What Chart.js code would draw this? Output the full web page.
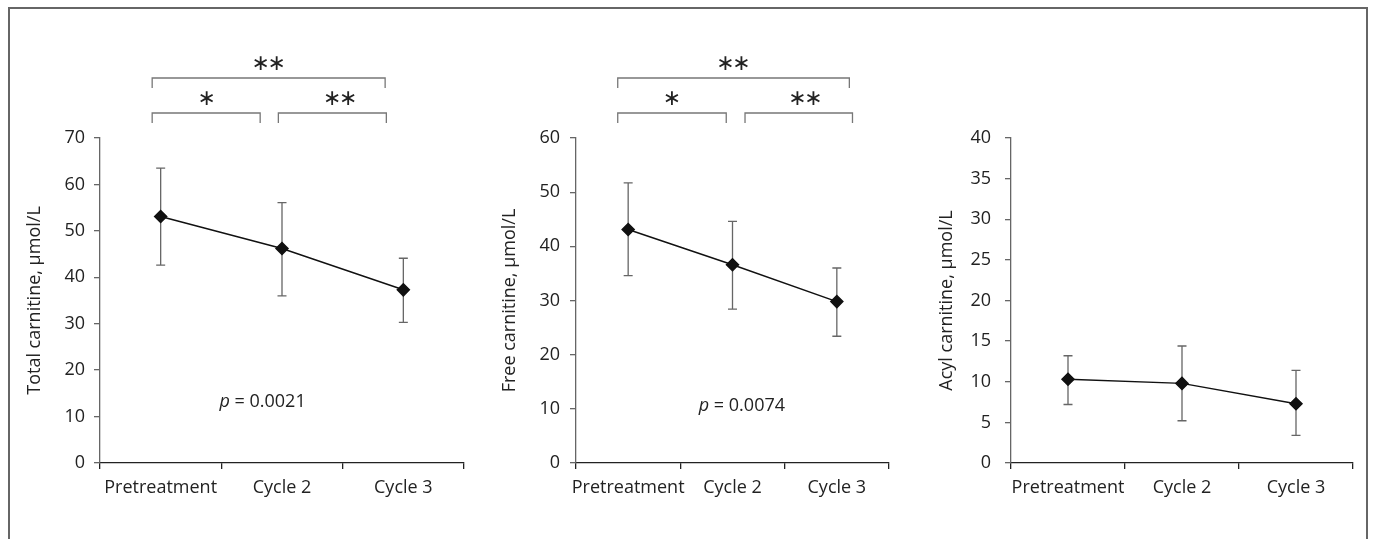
<!DOCTYPE html>
<html>
<head>
<meta charset="utf-8">
<script src="https://cdn.jsdelivr.net/npm/chart.js@4"></script>
<style>
body { margin: 0; background: #fff; width: 1375px; height: 539px; overflow: hidden; position: relative; }
#frame { position: absolute; left: 8px; top: 7px; width: 1360px; height: 620px; box-sizing: border-box; border: 2px solid #666; border-bottom: none; }
.box { position: absolute; top: 0; height: 539px; }
</style>
</head>
<body>
<div id="frame"></div>
<div class="box" style="left:0;width:480px"><canvas id="totalChart"></canvas></div>
<div class="box" style="left:480px;width:420px"><canvas id="freeChart"></canvas></div>
<div class="box" style="left:900px;width:470px"><canvas id="acylChart"></canvas></div>
<script>
const categories = ["Pretreatment", "Cycle 2", "Cycle 3"];

const totalMean = [53.1, 46.2, 37.3];
const totalLow = [42.6, 36.0, 30.3];
const totalHigh = [63.5, 56.1, 44.1];

const freeMean = [43.1, 36.6, 29.8];
const freeLow = [34.6, 28.4, 23.4];
const freeHigh = [51.7, 44.6, 36.0];

const acylMean = [10.3, 9.8, 7.3];
const acylLow = [7.2, 5.2, 3.4];
const acylHigh = [13.2, 14.4, 11.4];

// brackets: [from index, to index, level, number of stars, star index]
const totalBrackets = [[-0.07, 1.85, 0, 2, 0.89], [-0.07, 0.82, 1, 1, 0.38], [0.97, 1.86, 1, 2, 1.48]];
const freeBrackets = [[-0.1, 2.12, 0, 2, 1.01], [-0.1, 0.94, 1, 1, 0.42], [1.12, 2.15, 1, 2, 1.7]];

const totalP = ["0.0021", 0.84, 13.1];
const freeP = ["0.0074", 1.09, 10.5];

const FONT = "Open Sans";
const SIZE = 18;
const TXT = "#222";

const errorBars = {
  id: "errorBars",
  beforeDatasetsDraw(chart, args, opts) {
    const ctx = chart.ctx, x = chart.scales.x, y = chart.scales.y;
    ctx.save();
    ctx.strokeStyle = "#666";
    ctx.lineWidth = 1.3;
    opts.low.forEach((lo, i) => {
      const px = x.getPixelForValue(i);
      const y1 = y.getPixelForValue(lo), y2 = y.getPixelForValue(opts.high[i]);
      ctx.beginPath();
      ctx.moveTo(px, y1); ctx.lineTo(px, y2);
      ctx.moveTo(px - 4.5, y1); ctx.lineTo(px + 4.5, y1);
      ctx.moveTo(px - 4.5, y2); ctx.lineTo(px + 4.5, y2);
      ctx.stroke();
    });
    ctx.restore();
  }
};

const notes = {
  id: "notes",
  afterDraw(chart, args, opts) {
    const ctx = chart.ctx, x = chart.scales.x, y = chart.scales.y;
    const top = chart.chartArea.top;
    ctx.save();
    ctx.strokeStyle = "#777";
    ctx.lineWidth = 1.3;
    (opts.brackets || []).forEach(b => {
      const ly = top - (b[2] === 0 ? 60 : 25);
      const x1 = x.getPixelForValue(b[0]), x2 = x.getPixelForValue(b[1]);
      ctx.beginPath();
      ctx.moveTo(x1, ly + 10); ctx.lineTo(x1, ly); ctx.lineTo(x2, ly); ctx.lineTo(x2, ly + 10);
      ctx.stroke();
      ctx.font = "22px 'DejaVu Sans'";
      ctx.fillStyle = TXT;
      ctx.textAlign = "center";
      ctx.textBaseline = "alphabetic";
      const m = ctx.measureText("\u2217");
      const cy = ly - 15 + (m.actualBoundingBoxAscent - m.actualBoundingBoxDescent) / 2;
      const cx = x.getPixelForValue(b[4]);
      for (let k = 0; k < b[3]; k++) {
        ctx.fillText("\u2217", cx + (k - (b[3] - 1) / 2) * 16, cy);
      }
    });
    if (opts.p) {
      const px = x.getPixelForValue(opts.p[1]), py = y.getPixelForValue(opts.p[2]);
      ctx.textBaseline = "middle";
      ctx.textAlign = "left";
      ctx.fillStyle = TXT;
      ctx.font = "italic " + SIZE + "px '" + FONT + "'";
      const w1 = ctx.measureText("p").width;
      ctx.font = SIZE + "px '" + FONT + "'";
      const rest = " = " + opts.p[0];
      const w2 = ctx.measureText(rest).width;
      const sx = px - (w1 + w2) / 2;
      ctx.font = "italic " + SIZE + "px '" + FONT + "'";
      ctx.fillText("p", sx, py);
      ctx.font = SIZE + "px '" + FONT + "'";
      ctx.fillText(rest, sx + w1, py);
    }
    ctx.restore();
  }
};

function makeChart(id, mean, low, high, yMax, step, title, yWidth, padRight, titlePad, tickPad, brackets, p) {
  return new Chart(id, {
    type: "line",
    data: {
      labels: categories,
      datasets: [{
        data: mean,
        borderColor: "#111",
        borderWidth: 1.5,
        pointStyle: "rectRot",
        pointRadius: 6,
        pointBackgroundColor: "#111",
        pointBorderColor: "#111",
        tension: 0
      }]
    },
    options: {
      responsive: true,
      maintainAspectRatio: false,
      animation: false,
      devicePixelRatio: 1,
      layout: { padding: { top: 138, right: padRight, left: 0, bottom: 0 } },
      plugins: {
        legend: { display: false },
        tooltip: { enabled: false },
        errorBars: { low: low, high: high },
        notes: { brackets: brackets, p: p }
      },
      scales: {
        x: {
          type: "category",
          offset: true,
          grid: { offset: true, drawOnChartArea: false, tickLength: 6, color: "#222", lineWidth: 1.3 },
          border: { color: "#222", width: 1.3 },
          ticks: { color: TXT, font: { family: FONT, size: SIZE }, padding: 8, maxRotation: 0, autoSkip: false },
          afterFit(s) { s.height = 76; }
        },
        y: {
          min: 0,
          max: yMax,
          grid: { drawOnChartArea: false, tickLength: 6, color: "#666", lineWidth: 1.3 },
          border: { color: "#666", width: 1.3 },
          ticks: { stepSize: step, color: TXT, font: { family: FONT, size: SIZE }, padding: tickPad },
          title: { display: true, text: title, color: TXT, font: { family: FONT, size: SIZE }, padding: { top: titlePad, bottom: 0 } },
          afterFit(s) { s.width = yWidth; }
        }
      }
    },
    plugins: [errorBars, notes]
  });
}

makeChart("totalChart", totalMean, totalLow, totalHigh, 70, 10, "Total carnitine, µmol/L", 100, 16, 24, 9, totalBrackets, totalP);
makeChart("freeChart", freeMean, freeLow, freeHigh, 60, 10, "Free carnitine, µmol/L", 96, 11, 19, 10, freeBrackets, freeP);
makeChart("acylChart", acylMean, acylLow, acylHigh, 40, 5, "Acyl carnitine, µmol/L", 111, 17, 36, 14, null, null);
</script>
</body>
</html>
